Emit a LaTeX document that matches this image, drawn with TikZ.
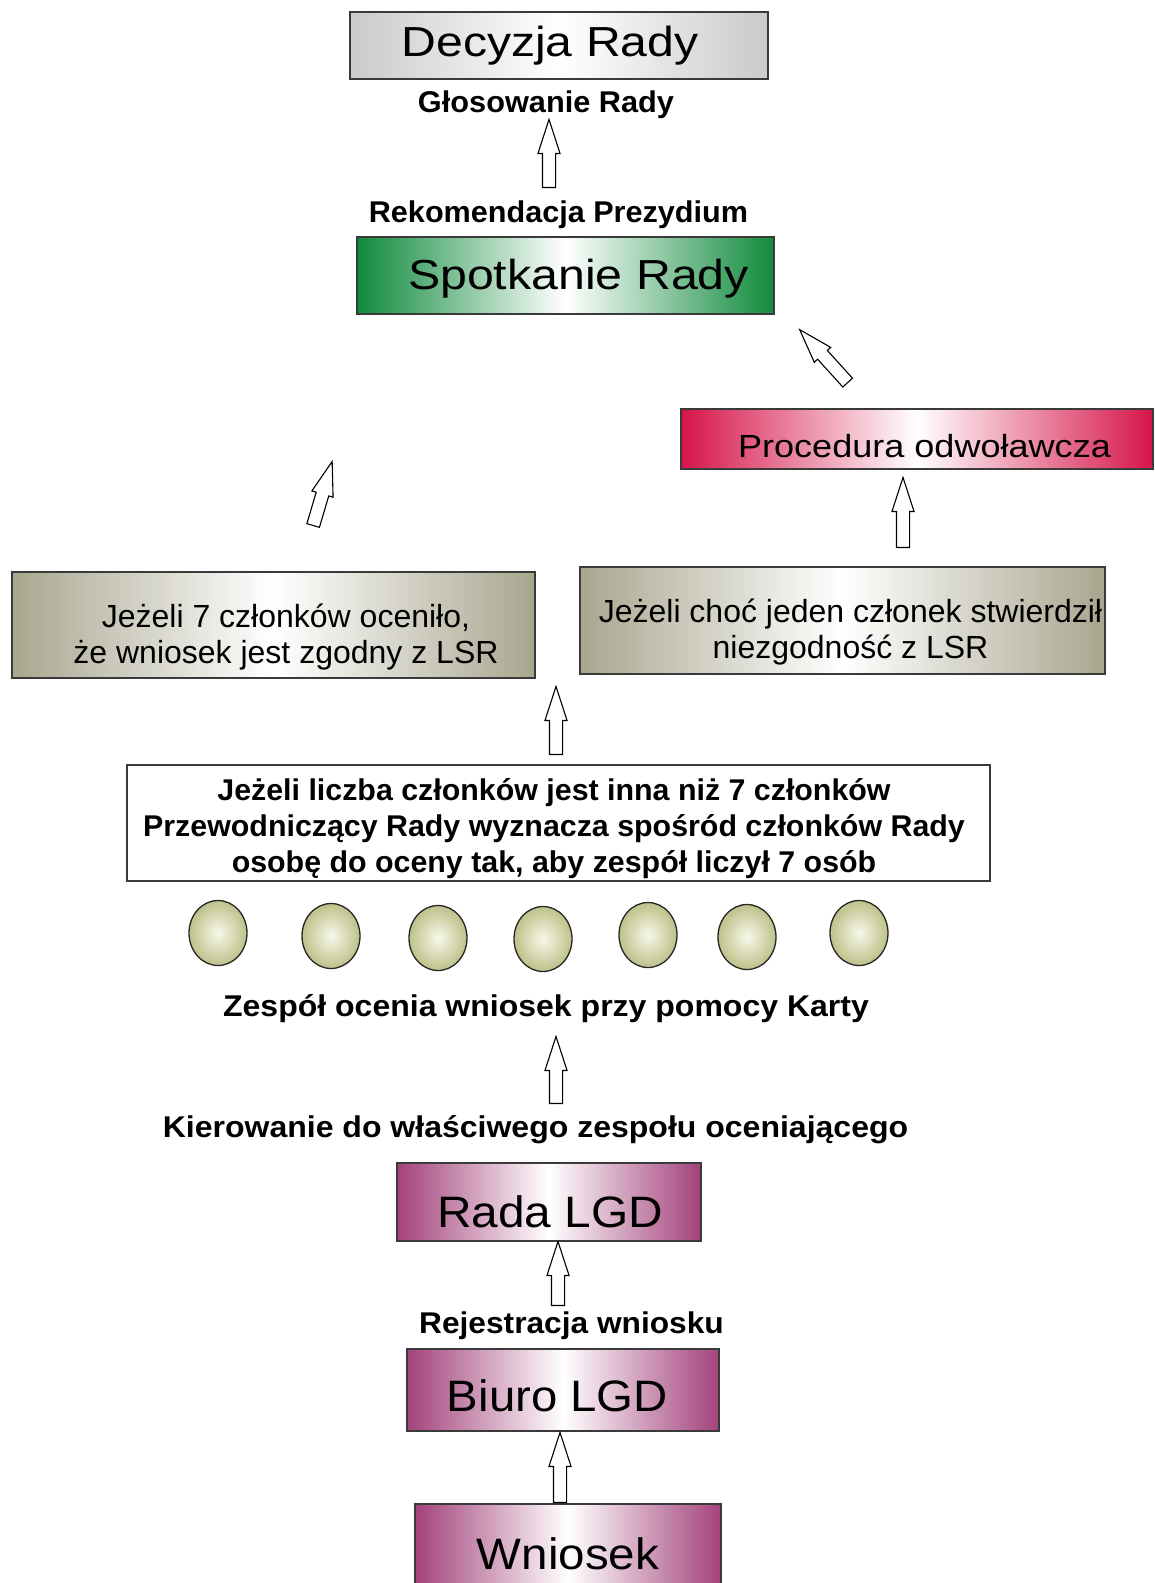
\documentclass[tikz,border=0pt]{standalone}
\usepackage{fontspec}
\setmainfont{Liberation Sans}
\usepackage{graphicx}
\usetikzlibrary{shapes.geometric,shapes.arrows,calc}

\definecolor{boxline}{HTML}{3A3A3A}
\definecolor{decgrey}{HTML}{CACACA}
\definecolor{spotgreen}{HTML}{108A3C}
\definecolor{procred}{HTML}{D6154A}
\definecolor{khaki}{HTML}{A9A68F}
\definecolor{lgdpurple}{HTML}{A3427B}
\definecolor{olive}{HTML}{BEC189}
\definecolor{olivelight}{HTML}{F7F8EA}

\newcommand{\nudge}[3]{\raisebox{#2}[0pt][0pt]{\hspace*{#1}#3\hspace*{-#1}}}
\newcommand{\bigtext}[3]{\fontsize{#1}{#1}\selectfont\scalebox{#2}[1]{#3}}
\newcommand{\stack}[1]{\begin{tabular}[b]{@{}c@{}}#1\end{tabular}}
\newcommand{\flowarrow}[2]{\path let \p1=($(#2)-(#1)$), \n1={veclen(\x1,\y1)} in (#1) -- node[hollow, sloped, allow upside down, pos=0, anchor=tail, minimum height=\n1] {} (#2);}

\tikzset{
  panel/.style={draw=boxline, line width=1.4pt, inner sep=0pt, rectangle},
  shadedpanel/.style={panel, left color=#1, right color=#1, middle color=white},
  member/.style={ellipse, draw=black!85, line width=1.3pt, inner sep=0pt, minimum width=58pt, minimum height=65pt, inner color=olivelight, outer color=olive},
  caption/.style={font=\fontsize{30}{36}\selectfont\bfseries, inner sep=0pt, anchor=base},
  hollow/.style={single arrow, draw=black, fill=white, line width=1.1pt, inner xsep=0pt, inner ysep=6pt, minimum width=21pt, single arrow head extend=4.5pt, single arrow tip angle=36}
}

\begin{document}
\begin{tikzpicture}[x=1pt,y=-1pt]
\useasboundingbox (0,0) rectangle (1155,1583);
\clip (0,0) rectangle (1155,1583);

\node[shadedpanel=decgrey, minimum width=418pt, minimum height=67pt] (decyzja) at (559,45.5) {\nudge{-9pt}{-10.5pt}{\bigtext{42}{1.146}{Decyzja Rady}}};
\node[caption] (glosowanie) at (546,112) {\scalebox{1.024}[1]{Głosowanie Rady}};
\node[caption] (rekomendacja) at (558.5,222) {\scalebox{1.02}[1]{Rekomendacja Prezydium}};
\node[shadedpanel=spotgreen, minimum width=417pt, minimum height=77pt] (spotkanie) at (565.5,275.5) {\nudge{13pt}{-14pt}{\bigtext{42}{1.15}{Spotkanie Rady}}};
\node[shadedpanel=procred, minimum width=472pt, minimum height=60pt] (procedura) at (917,439) {\nudge{7.5pt}{-18pt}{\bigtext{32}{1.127}{Procedura odwoławcza}}};

\node[shadedpanel=khaki, minimum width=523pt, minimum height=106pt] (zgodny) at (273.5,625) {\nudge{12.5pt}{-38pt}{\fontsize{32}{36}\selectfont\stack{Jeżeli 7 członków oceniło,\\że wniosek jest zgodny z LSR}}};
\node[shadedpanel=khaki, minimum width=525pt, minimum height=107pt] (niezgodny) at (842.5,620.5) {\nudge{8pt}{-37.5pt}{\fontsize{32}{36}\selectfont\stack{Jeżeli choć jeden członek stwierdził\\niezgodność z LSR}}};

\node[panel, fill=white, minimum width=863pt, minimum height=116pt] (liczba) at (558.5,823) {\nudge{-4.5pt}{-49pt}{\fontsize{30}{36}\selectfont\bfseries\scalebox{1.012}[1]{\stack{Jeżeli liczba członków jest inna niż 7 członków\\Przewodniczący Rady wyznacza spośród członków Rady\\osobę do oceny tak, aby zespół liczył 7 osób}}}};

\foreach \x/\y [count=\i] in {218/933,331/936,438/938,543/939,648/935,747/937,859/933}
  \node[member] (member\i) at (\x,\y) {};

\node[caption] (zespol) at (546,1016) {\scalebox{1.067}[1]{Zespół ocenia wniosek przy pomocy Karty}};
\node[caption] (kierowanie) at (535.5,1137) {\scalebox{1.067}[1]{Kierowanie do właściwego zespołu oceniającego}};
\node[shadedpanel=lgdpurple, minimum width=304pt, minimum height=78pt] (rada) at (549,1202) {\nudge{1pt}{-25pt}{\bigtext{44}{1.087}{Rada LGD}}};
\node[caption] (rejestracja) at (571.5,1333) {\scalebox{1.056}[1]{Rejestracja wniosku}};
\node[shadedpanel=lgdpurple, minimum width=312pt, minimum height=82pt] (biuro) at (563,1390) {\nudge{-5.5pt}{-21pt}{\bigtext{44}{1.076}{Biuro LGD}}};
\node[shadedpanel=lgdpurple, minimum width=306pt, minimum height=96pt] (wniosek) at (568,1552) {\nudge{0pt}{-17pt}{\bigtext{44}{1.08}{Wniosek}}};

\coordinate (fromRekomendacja) at (549,188);
\coordinate (toGlosowanie) at (549,120);
\coordinate (fromProcedura) at (848,383);
\coordinate (toSpotkanieR) at (800,330);
\coordinate (fromNiezgodny) at (903,548);
\coordinate (toProcedura) at (903,478);
\coordinate (fromZgodny) at (313,526);
\coordinate (toSpotkanieL) at (332,462);
\coordinate (fromLiczba) at (556,755);
\coordinate (toWyniki) at (556,687);
\coordinate (fromKierowanie) at (556,1104);
\coordinate (toZespol) at (556,1037);
\coordinate (fromRejestracja) at (558,1306);
\coordinate (toRada) at (558,1242);
\coordinate (fromWniosek) at (560,1503);
\coordinate (toBiuro) at (560,1433);

\flowarrow{fromRekomendacja}{toGlosowanie}
\flowarrow{fromProcedura}{toSpotkanieR}
\flowarrow{fromNiezgodny}{toProcedura}
\flowarrow{fromZgodny}{toSpotkanieL}
\flowarrow{fromLiczba}{toWyniki}
\flowarrow{fromKierowanie}{toZespol}
\flowarrow{fromRejestracja}{toRada}
\flowarrow{fromWniosek}{toBiuro}
\end{tikzpicture}
\end{document}
